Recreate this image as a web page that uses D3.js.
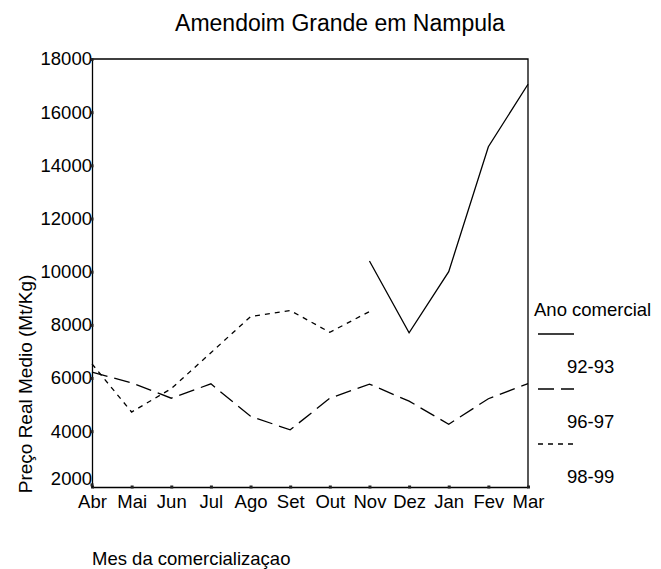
<!DOCTYPE html>
<html>
<head>
<meta charset="utf-8">
<script src="https://cdn.jsdelivr.net/npm/d3@7"></script>
<style>
  body { margin: 0; background: #fff; }
  text { font-family: "Liberation Sans", Arial, sans-serif; fill: #000; }
</style>
</head>
<body>
<div id="chart"></div>
<script>
// Data
const months = ["Abr", "Mai", "Jun", "Jul", "Ago", "Set", "Out", "Nov", "Dez", "Jan", "Fev", "Mar"];
const yTicks = [2000, 4000, 6000, 8000, 10000, 12000, 14000, 16000, 18000];
const series = ["92-93", "96-97", "98-99"];
const values9293 = [null, null, null, null, null, null, null, 10400, 7700, 10000, 14700, 17050];
const values9697 = [6220, 5820, 5240, 5780, 4560, 4050, 5240, 5770, 5130, 4260, 5220, 5790];
const values9899 = [6530, 4720, 5600, 6950, 8310, 8540, 7720, 8500, null, null, null, null];

function chart() {
  const width = 661;
  const height = 569;
  const left = 92, right = 528, top = 59, bottom = 487;
  const fs = "18.5px";

  const svg = d3.select("#chart")
    .append("svg")
    .attr("width", width)
    .attr("height", height);

  const x = d3.scalePoint().domain(months).range([left, right]);
  const y = d3.scaleLinear().domain([1900, 18000]).range([bottom, top]);

  const dashes = { "92-93": null, "96-97": "16,7", "98-99": "5,5" };
  const allValues = { "92-93": values9293, "96-97": values9697, "98-99": values9899 };

  // frame (top and right)
  svg.append("path")
    .attr("d", `M${left},${top}H${right}V${bottom}`)
    .attr("fill", "none")
    .attr("stroke", "#000")
    .attr("stroke-width", 1.3);

  // axes
  const xAxis = svg.append("g")
    .attr("transform", `translate(0,${bottom})`)
    .call(d3.axisBottom(x).tickSize(0).tickPadding(8));
  const yAxis = svg.append("g")
    .attr("transform", `translate(${left},0)`)
    .call(d3.axisLeft(y).tickValues(yTicks).tickSize(0).tickPadding(0).tickFormat(d3.format("d")));

  [xAxis, yAxis].forEach((g) => {
    g.select(".domain").attr("stroke", "#000").attr("stroke-width", 1.3);
    g.selectAll(".tick text").attr("font-family", null).style("font-size", fs).attr("fill", "#000");
    g.selectAll(".tick").append("rect")
      .attr("x", -1.5).attr("y", -1.5)
      .attr("width", 3).attr("height", 3)
      .attr("fill", "#222");
  });
  // lowest label sits a little higher in the reference
  yAxis.selectAll(".tick text").filter((d) => d === 2000).attr("y", -6);

  // lines
  const line = d3.line()
    .defined((d) => d != null)
    .x((d, i) => x(months[i]))
    .y((d) => y(d));

  series.forEach((s) => {
    svg.append("path")
      .datum(allValues[s])
      .attr("d", line)
      .attr("fill", "none")
      .attr("stroke", "#000")
      .attr("stroke-width", 1.3)
      .attr("stroke-dasharray", dashes[s]);
  });

  // title
  svg.append("text")
    .attr("x", 340).attr("y", 31)
    .attr("text-anchor", "middle")
    .style("font-size", "23px")
    .text("Amendoim Grande em Nampula");

  // axis titles
  svg.append("text")
    .attr("x", 92).attr("y", 565)
    .style("font-size", fs)
    .text("Mes da comercializaçao");

  svg.append("text")
    .attr("transform", "translate(32,384) rotate(-90)")
    .attr("text-anchor", "middle")
    .style("font-size", "19px")
    .text("Preço Real Medio (Mt/Kg)");

  // legend
  const legend = svg.append("g").attr("transform", "translate(534,0)");
  legend.append("text")
    .attr("x", 0).attr("y", 316)
    .style("font-size", fs)
    .text("Ano comercial");
  series.forEach((s, i) => {
    const ly = 334 + i * 55;
    legend.append("line")
      .attr("x1", 4).attr("x2", 40)
      .attr("y1", ly).attr("y2", ly)
      .attr("stroke", "#000")
      .attr("stroke-width", 1.3)
      .attr("stroke-dasharray", dashes[s]);
    legend.append("text")
      .attr("x", 33).attr("y", ly + 39)
      .style("font-size", fs)
      .text(s);
  });
}

chart();
</script>
</body>
</html>
